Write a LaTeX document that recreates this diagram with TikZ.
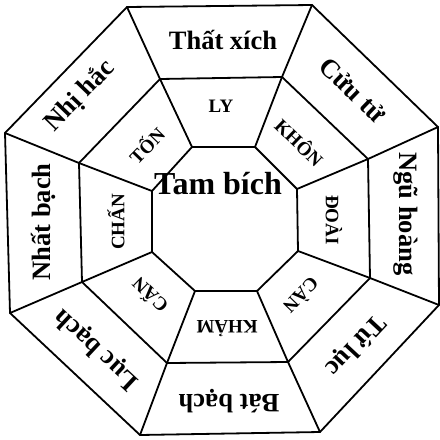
\documentclass[tikz,border=0pt]{standalone}
\usepackage{fontspec}
\setmainfont{Liberation Serif}
\begin{document}
\begin{tikzpicture}[x=1pt,y=-1pt,
  edge/.style={line width=1.8pt, line join=round, line cap=round},
  outerlab/.style={font=\bfseries\fontsize{26.5}{26.5}\selectfont, inner sep=0pt},
  midlab/.style={font=\bfseries\fontsize{19}{19}\selectfont, inner sep=0pt},
  centerlab/.style={font=\bfseries\fontsize{32}{32}\selectfont, inner sep=0pt}]
\useasboundingbox (0,0) rectangle (440,440);
% outer octagon
\coordinate (o1) at (127,7);
\coordinate (o2) at (312,5);
\coordinate (o3) at (438,127);
\coordinate (o4) at (439,305);
\coordinate (o5) at (320,432);
\coordinate (o6) at (140,435);
\coordinate (o7) at (10,313);
\coordinate (o8) at (5,133);
% middle octagon
\coordinate (m1) at (160,79);
\coordinate (m2) at (282,77);
\coordinate (m3) at (368,159);
\coordinate (m4) at (370,278);
\coordinate (m5) at (288,362);
\coordinate (m6) at (167,363);
\coordinate (m7) at (82,282);
\coordinate (m8) at (79,163);
% inner octagon
\coordinate (i1) at (192,147);
\coordinate (i2) at (255,147);
\coordinate (i3) at (297,189);
\coordinate (i4) at (298,251);
\coordinate (i5) at (257,291);
\coordinate (i6) at (195,291);
\coordinate (i7) at (152,252);
\coordinate (i8) at (152,191);
\draw[edge] (o1)--(o2)--(o3)--(o4)--(o5)--(o6)--(o7)--(o8)--cycle;
\draw[edge] (m1)--(m2)--(m3)--(m4)--(m5)--(m6)--(m7)--(m8)--cycle;
\draw[edge] (i1)--(i2)--(i3)--(i4)--(i5)--(i6)--(i7)--(i8)--cycle;
\foreach \k in {1,...,8}{
  \draw[edge] (o\k)--(m\k);
  \draw[edge] (m\k)--(i\k);
}
% outer labels
\node[outerlab] (t1) at (223,40) {Thất xích};
\node[outerlab, rotate=-44] (t2) at (353,90) {Cửu tử};
\node[outerlab, rotate=-90] (t3) at (406,214) {Ngũ hoàng};
\node[outerlab, rotate=-133] (t4) at (355,345) {Tứ lục};
\node[outerlab, rotate=180] (t5) at (229,401) {Bát bạch};
\node[outerlab, rotate=137] (t6) at (97,349) {Lục bạch};
\node[outerlab, rotate=90] (t7) at (43,222) {Nhất bạch};
\node[outerlab, rotate=46] (t8) at (80,96) {Nhị hắc};
% middle labels
\node[midlab] (n1) at (221,106) {LY};
\node[midlab, rotate=-44] (n2) at (300,142) {KHÔN};
\node[midlab, rotate=-90] (n3) at (334,220) {ĐOÀI};
\node[midlab, rotate=-134] (n4) at (302,296) {CÀN};
\node[midlab, rotate=180] (n5) at (227,329) {KHẢM};
\node[midlab, rotate=136] (n6) at (149,296) {CẤN};
\node[midlab, rotate=90] (n7) at (116,222) {CHẤN};
\node[midlab, rotate=46] (n8) at (146,145) {TỐN};
% center
\node[centerlab] (c) at (218,184) {Tam bích};
\end{tikzpicture}
\end{document}
